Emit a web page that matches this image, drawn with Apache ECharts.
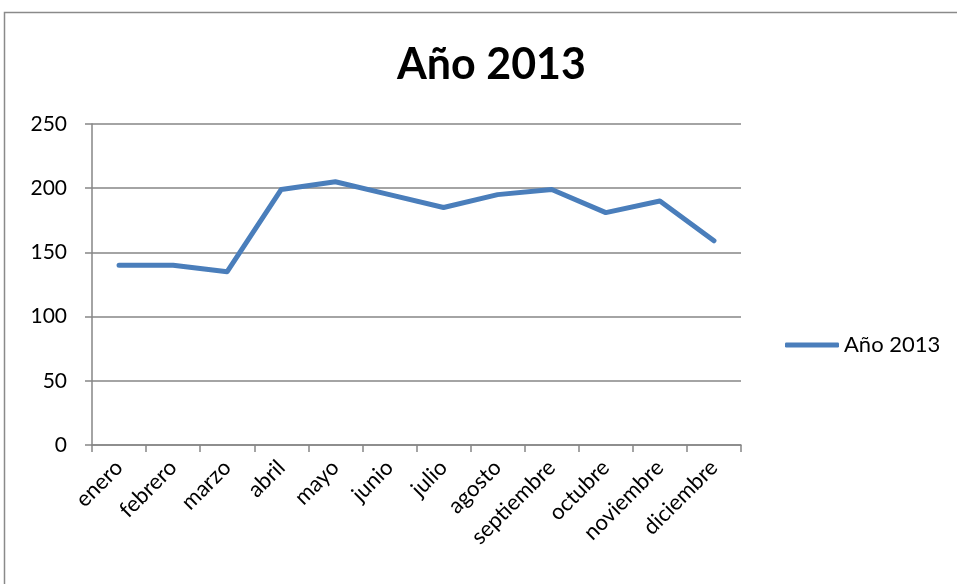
<!DOCTYPE html>
<html><head><meta charset="utf-8">
<script src="https://cdn.jsdelivr.net/npm/echarts@6/dist/echarts.min.js"></script>
<style>html,body{margin:0;padding:0;background:#fff}#c{width:957px;height:584px}</style>
</head><body><div id="c"></div>
<script>
var categories = ['enero','febrero','marzo','abril','mayo','junio','julio','agosto','septiembre','octubre','noviembre','diciembre'];
var values = [140,140,135,199,205,195,185,195,199,181,190,159];
var seriesName = 'Año 2013';
var titleText = 'Año 2013';
var FONT = 'Lato, "Open Sans", sans-serif';
var chart = echarts.init(document.getElementById('c'));
chart.setOption({
  animation:false,
  backgroundColor:'#fff',
  graphic:[{type:'rect',shape:{x:4.5,y:12.5,width:1000,height:700},style:{fill:'none',stroke:'#8a8a8a',lineWidth:1.5}}],
  title:{text:titleText,left:397,top:44,textStyle:{fontFamily:FONT,fontWeight:'bold',fontSize:43,color:'#000'},padding:0},
  legend:{data:[{name:seriesName,icon:'roundRect'}],left:780,top:329,itemWidth:54,itemHeight:5,itemGap:5,textStyle:{fontFamily:FONT,fontSize:22,color:'#000'}},
  grid:{left:92,right:216,top:124,bottom:139},
  xAxis:{type:'category',data:categories,boundaryGap:true,
    axisLine:{lineStyle:{color:'#868686',width:1.5}},
    axisTick:{show:true,alignWithLabel:false,length:7,lineStyle:{color:'#868686',width:1.5}},
    axisLabel:{interval:0,rotate:45,fontFamily:FONT,fontSize:22,color:'#000',margin:19}},
  yAxis:{type:'value',min:0,max:250,interval:50,
    axisLine:{show:true,lineStyle:{color:'#868686',width:1.5}},
    axisTick:{show:true,length:7,lineStyle:{color:'#868686',width:1.5}},
    splitLine:{lineStyle:{color:'#868686',width:1.5}},
    axisLabel:{fontFamily:FONT,fontSize:21,color:'#000',margin:25}},
  series:[{name:seriesName,type:'line',data:values,showSymbol:false,symbol:'none',
    lineStyle:{color:'#4a7ebb',width:5,cap:'round',join:'round'},itemStyle:{color:'#4a7ebb'}}]
});
</script></body></html>
